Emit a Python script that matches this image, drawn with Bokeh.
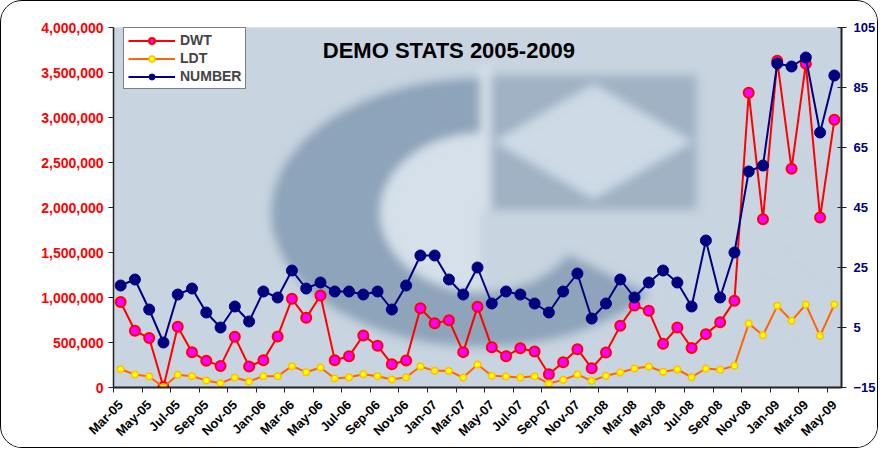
import numpy as np
from bokeh.plotting import figure
from bokeh.models import (Range1d, LinearAxis, FixedTicker, NumeralTickFormatter,
                          Legend, LegendItem, Label)
from bokeh.embed import file_html
from bokeh.resources import INLINE

# ---------------- data ----------------
months = ["Mar-05", "Apr-05", "May-05", "Jun-05", "Jul-05", "Aug-05", "Sep-05", "Oct-05", "Nov-05", "Dec-05",
          "Jan-06", "Feb-06", "Mar-06", "Apr-06", "May-06", "Jun-06", "Jul-06", "Aug-06", "Sep-06", "Oct-06",
          "Nov-06", "Dec-06", "Jan-07", "Feb-07", "Mar-07", "Apr-07", "May-07", "Jun-07", "Jul-07", "Aug-07",
          "Sep-07", "Oct-07", "Nov-07", "Dec-07", "Jan-08", "Feb-08", "Mar-08", "Apr-08", "May-08", "Jun-08",
          "Jul-08", "Aug-08", "Sep-08", "Oct-08", "Nov-08", "Dec-08", "Jan-09", "Feb-09", "Mar-09", "Apr-09",
          "May-09"]

dwt = [950000, 630000, 550000, 5000, 675000, 392000, 296000, 240000, 563000, 233000,
       304000, 567000, 985000, 774000, 1022000, 304000, 348000, 578000, 463000, 259000,
       300000, 881000, 715000, 748000, 393000, 896000, 448000, 348000, 437000, 400000,
       148000, 281000, 426000, 215000, 389000, 685000, 911000, 852000, 485000, 667000,
       440000, 593000, 726000, 963000, 3274000, 1870000, 3630000, 2430000, 3596000, 1889000,
       2974000]

ldt = [203000, 144000, 122000, 3000, 141000, 126000, 78000, 48000, 111000, 67000,
       126000, 126000, 237000, 170000, 222000, 100000, 115000, 148000, 126000, 89000,
       115000, 233000, 185000, 185000, 111000, 256000, 130000, 122000, 111000, 126000,
       44000, 85000, 144000, 74000, 130000, 167000, 211000, 233000, 174000, 200000,
       115000, 211000, 196000, 241000, 711000, 581000, 907000, 741000, 922000, 574000,
       922000]

number = [19, 21, 11, 0, 16, 18, 10, 5, 12, 7,
          17, 15, 24, 18, 20, 17, 17, 16, 17, 11,
          19, 29, 29, 21, 16, 25, 13, 17, 16, 13,
          10, 17, 23, 8, 13, 21, 15, 20, 24, 20,
          12, 34, 15, 30, 57, 59, 93, 92, 95, 70,
          89]

left_ticks = [0, 500000, 1000000, 1500000, 2000000, 2500000, 3000000, 3500000, 4000000]
right_ticks = [-15, 5, 25, 45, 65, 85, 105]

title_text = "DEMO STATS 2005-2009"

# category positions (centre of each category slot)
xs = [i + 0.5 for i in range(len(months))]
NCAT = len(months)
YMAX = 4000000

FONT = "Liberation Sans"

# frame geometry in pixels (used only for the faded background picture)
FW, FH = 728, 360
FL, FT = 112, 26


def watermark():
    """Soft, faded company-logo style picture behind the plot area."""
    X, Y = np.meshgrid(np.arange(FW) + FL + 0.5, np.arange(FH) + FT + 0.5)
    bg = np.array([200, 212, 224], float)
    img = np.ones((FH, FW, 3)) * bg
    cx, cy = 480.0, 211.0
    r_out = np.sqrt(((X - cx) / 210.0) ** 2 + ((Y - cy) / 134.0) ** 2)
    r_in = np.sqrt(((X - cx) / 102.0) ** 2 + ((Y - cy) / 80.0) ** 2)
    ang = np.degrees(np.arctan2(Y - cy, X - cx))
    in_c = (ang >= 26) | (ang <= -90)
    ring = (r_out <= 1) & (r_in > 1) & in_c
    inner = (r_in <= 1) & (X < 480)
    img[inner] = [214, 224, 234]
    img[ring] = [142, 164, 186]
    # cube in the opening of the C
    block = (X >= 490) & (X <= 695) & (Y >= 74) & (Y <= 208)
    img[block] = [160, 178, 196]
    dia = (np.abs(X - 592) / 100.0 + np.abs(Y - 140) / 58.0) <= 1
    img[dia & block] = [206, 219, 231]
    bar = (X >= 478) & (X <= 490) & (Y >= 62) & (Y <= 208)
    img[bar] = [214, 224, 234]
    # soften edges
    for _ in range(2):
        for axis in (0, 1):
            k = 5
            pad = [(0, 0)] * 3
            pad[axis] = (k, k)
            a = np.pad(img, pad, mode="edge")
            c = np.cumsum(a, axis=axis)
            c = np.concatenate([np.zeros_like(np.take(c, [0], axis=axis)), c], axis=axis)
            n = img.shape[axis]
            img = (np.take(c, np.arange(2 * k + 1, 2 * k + 1 + n), axis=axis)
                   - np.take(c, np.arange(0, n), axis=axis)) / (2 * k + 1)
    rgba = np.empty((FH, FW), dtype=np.uint32)
    view = rgba.view(dtype=np.uint8).reshape((FH, FW, 4))
    view[:, :, :3] = np.clip(img, 0, 255).astype(np.uint8)
    view[:, :, 3] = 255
    return rgba[::-1]


p = figure(width=878, height=448,
           x_range=Range1d(0, NCAT), y_range=Range1d(0, YMAX),
           output_backend="svg", toolbar_location=None,
           min_border_left=112, min_border_right=38,
           min_border_top=26, min_border_bottom=62,
           background_fill_color="#C8D4E0", border_fill_color="white")
p.outline_line_color = None
p.extra_y_ranges = {"right": Range1d(-15, 105)}

p.image_rgba(image=[watermark()], x=0, y=0, dw=NCAT, dh=YMAX)

# grid
p.xgrid.visible = False
p.ygrid.ticker = FixedTicker(ticks=left_ticks)
p.ygrid.grid_line_color = "#8C8C8C"
p.ygrid.grid_line_width = 1

# left axis
yax = p.yaxis[0]
yax.ticker = FixedTicker(ticks=left_ticks)
yax.formatter = NumeralTickFormatter(format="0,0")
yax.major_label_text_color = "#FF0000"
yax.major_label_text_font = FONT
yax.major_label_text_font_style = "bold"
yax.major_label_text_font_size = "14px"
yax.axis_line_color = "#222222"
yax.axis_line_width = 1.5
yax.major_tick_line_color = "#222222"
yax.major_tick_out = 5
yax.major_tick_in = 0
yax.minor_tick_line_color = None
yax.major_label_standoff = 5

# right axis
rax = LinearAxis(y_range_name="right", ticker=FixedTicker(ticks=right_ticks))
rax.major_label_text_color = "#000080"
rax.major_label_text_font = FONT
rax.major_label_text_font_style = "bold"
rax.major_label_text_font_size = "13px"
rax.axis_line_color = "#222222"
rax.axis_line_width = 2
rax.major_tick_line_color = "#222222"
rax.major_tick_out = 5
rax.major_tick_in = 4
rax.minor_tick_line_color = None
rax.major_label_standoff = 7
p.add_layout(rax, "right")

# bottom axis: labels every other month, tick marks at category boundaries
xax = p.xaxis[0]
label_pos = xs[::2]
xax.ticker = FixedTicker(ticks=label_pos, minor_ticks=list(range(0, NCAT, 2)))
xax.major_label_overrides = {pos: months[i * 2] for i, pos in enumerate(label_pos)}
xax.major_label_orientation = np.pi / 4
xax.major_label_text_font = FONT
xax.major_label_text_font_style = "bold"
xax.major_label_text_font_size = "13px"
xax.major_label_text_color = "black"
xax.major_tick_line_color = None
xax.minor_tick_line_color = "#222222"
xax.minor_tick_out = 5
xax.minor_tick_in = 0
xax.axis_line_color = "#222222"
xax.axis_line_width = 2
xax.major_label_standoff = 9

# series
dwt_line = p.line(xs, dwt, line_color="#FF0000", line_width=2)
dwt_pts = p.scatter(xs, dwt, marker="circle", size=10, fill_color="#FF00FF",
                    line_color="#FF0000", line_width=2)
ldt_line = p.line(xs, ldt, line_color="#FF6600", line_width=2)
ldt_pts = p.scatter(xs, ldt, marker="circle", size=6.5, fill_color="#FFFF00",
                    line_color="#FFC000", line_width=1.5)
num_line = p.line(xs, number, line_color="#000080", line_width=2, y_range_name="right")
num_pts = p.scatter(xs, number, marker="circle", size=11, fill_color="#000080",
                    line_color="#000080", line_width=1, y_range_name="right")

legend = Legend(items=[LegendItem(label="DWT", renderers=[dwt_line, dwt_pts]),
                       LegendItem(label="LDT", renderers=[ldt_line, ldt_pts]),
                       LegendItem(label="NUMBER", renderers=[num_line, num_pts])],
                location=(10, 298))
legend.label_text_font = FONT
legend.label_text_font_style = "bold"
legend.label_text_font_size = "14px"
legend.glyph_width = 47
legend.glyph_height = 15
legend.label_height = 15
legend.label_standoff = 5
legend.padding = 4
legend.spacing = 2
legend.margin = 0
legend.border_line_color = "black"
legend.border_line_width = 1
legend.background_fill_color = "white"
legend.background_fill_alpha = 1
p.add_layout(legend)

title = Label(x=23.5, y=3741000, text=title_text, text_align="center",
              text_baseline="alphabetic", text_font=FONT, text_font_style="bold",
              text_font_size="22px", text_color="black")
p.add_layout(title)

p.styles = {"border": "1.5px solid black", "border-radius": "22px", "overflow": "hidden"}

open("out.html", "w").write(file_html(p, INLINE))
